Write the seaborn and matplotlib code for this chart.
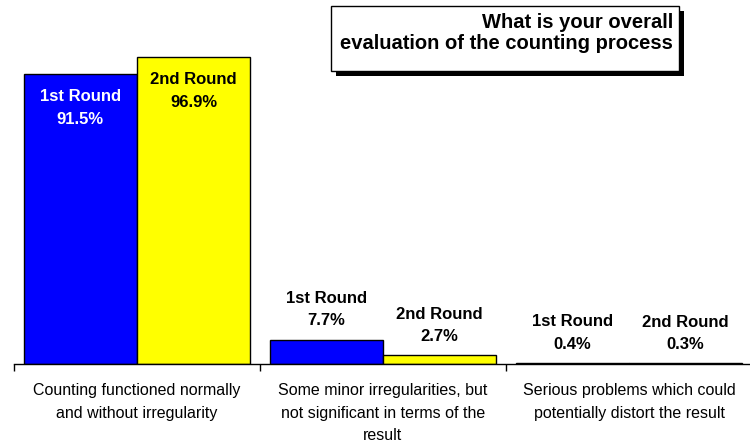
import numpy as np
import pandas as pd
import matplotlib
matplotlib.use('Agg')
import matplotlib.pyplot as plt
from matplotlib.patches import Rectangle
import seaborn as sns

categories = ['Counting functioned normally\nand without irregularity',
              'Some minor irregularities, but\nnot significant in terms of the\nresult',
              'Serious problems which could\npotentially distort the result']
rounds = ['1st Round', '2nd Round']
round1 = [91.5, 7.7, 0.4]
round2 = [96.9, 2.7, 0.3]
colors = ['#0000FF', '#FFFF00']
title = 'What is your overall\nevaluation of the counting process'

df = pd.DataFrame({
    'category': categories * 2,
    'round': [rounds[0]] * 3 + [rounds[1]] * 3,
    'value': round1 + round2,
})

sns.set_style('white')
plt.rcParams['font.family'] = ['Liberation Sans', 'DejaVu Sans']
plt.rcParams['text.color'] = 'black'
plt.rcParams['xtick.color'] = 'black'

fig = plt.figure(figsize=(7.5, 4.46), dpi=100)
# axis runs off the right edge, as in the original
ax = fig.add_axes([14 / 750, 82 / 446, 738 / 750, 317 / 446])

sns.barplot(data=df, x='category', y='value', hue='round', hue_order=rounds,
            palette=colors, saturation=1, width=0.92, gap=0,
            edgecolor='black', linewidth=1, legend=False, ax=ax)

# value labels: inside the tall first group, above the bars elsewhere
for cont, rnd, txt_col in zip(ax.containers, rounds, ['white', 'black']):
    for i, bar in enumerate(cont):
        h = bar.get_height()
        xc = bar.get_x() + bar.get_width() / 2
        label = f'{rnd}\n{h:.1f}%'
        if i == 0:
            ax.annotate(label, (xc, h), xytext=(0, -11), textcoords='offset points',
                        ha='center', va='top', color=txt_col, fontsize=12,
                        fontweight='bold', linespacing=1.65)
        else:
            ax.annotate(label, (xc, h), xytext=(0, 8), textcoords='offset points',
                        ha='center', va='bottom', color='black', fontsize=12,
                        fontweight='bold', linespacing=1.6)

ax.set_xlim(-0.5, 2.5)
ax.set_ylim(0, 100)
ax.set_xlabel(''); ax.set_ylabel('')
ax.set_yticks([])
ax.set_xticks([-0.5, 0.5, 1.5, 2.5], minor=True)
ax.tick_params(axis='x', which='major', length=0, pad=14, labelsize=11.5,
               labelcolor='black')
ax.tick_params(axis='x', which='minor', length=5, width=1, color='black',
               direction='out', bottom=True)
for lbl in ax.get_xticklabels():
    lbl.set_linespacing(1.6)
for side in ['left', 'top', 'right']:
    ax.spines[side].set_visible(False)
ax.spines['bottom'].set_color('black')
ax.spines['bottom'].set_linewidth(1)

# title box with drop shadow
bx, by, bw, bh = 331 / 750, (446 - 71) / 446, 348 / 750, 65 / 446
fig.patches.append(Rectangle((bx + 5 / 750, by - 5 / 446), bw, bh, transform=fig.transFigure,
                             facecolor='black', edgecolor='none', zorder=5))
fig.patches.append(Rectangle((bx, by), bw, bh, transform=fig.transFigure,
                             facecolor='white', edgecolor='black', linewidth=1, zorder=6))
fig.text(673 / 750, (446 - 33) / 446, title, ha='right', va='center', fontsize=14.5,
         fontweight='bold', linespacing=1.12, zorder=7)

fig.savefig('out.png', dpi=100)
